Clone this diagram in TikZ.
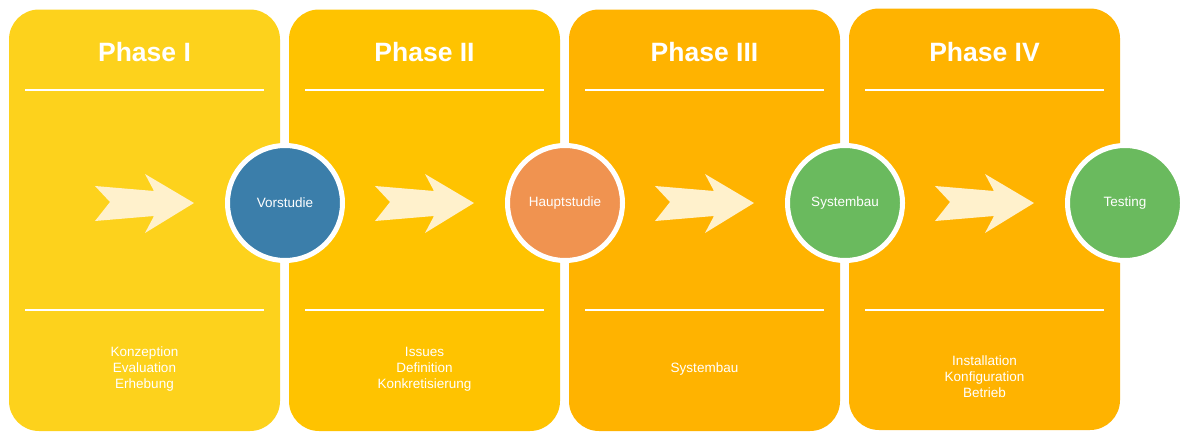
\documentclass[tikz,border=0pt]{standalone}
\usepackage{fontspec}
\setmainfont{Liberation Sans}
\definecolor{pA}{HTML}{FDD21C}
\definecolor{pB}{HTML}{FFC300}
\definecolor{pC}{HTML}{FFB300}
\definecolor{cBlue}{HTML}{3B7EAA}
\definecolor{cOrange}{HTML}{F09350}
\definecolor{cGreen}{HTML}{6ABA5E}
\definecolor{arrowc}{HTML}{FFF1CC}
\tikzset{
  panelbox/.style={rounded corners=30pt},
  sepline/.style={draw=white, line width=2pt},
  phasetitle/.style={font=\bfseries\fontsize{26.5}{30}\selectfont, text=white, inner sep=0pt},
  smalltext/.style={font=\fontsize{13.5}{16}\selectfont, text=white, align=center, inner sep=0pt},
  phasecircle/.style={circle, minimum size=115pt, draw=white, line width=5pt, inner sep=0pt,
     font=\fontsize{13.5}{16}\selectfont, text=white},
  chevron/.style={fill=arrowc}
}
\begin{document}
\begin{tikzpicture}[x=1pt,y=-1pt]
\useasboundingbox (0,0) rectangle (1185,439);
\foreach \i/\col/\dy in {0/pA/0,1/pB/0,2/pC/0,3/pC/-1}{
  \pgfmathsetmacro{\L}{9+280*\i}
  \fill[\col, panelbox] (\L,9.5+\dy) rectangle (\L+271,431+\dy);
  \draw[sepline] (\L+16,90) -- (\L+255,90);
  \draw[sepline] (\L+16,310) -- (\L+255,310);
  \fill[chevron] (\L+86,186) -- (\L+101,202) -- (\L+86,221) -- (\L+145,216) -- (\L+136,233)
     -- (\L+185,203) -- (\L+136,174) -- (\L+145,191) -- cycle;
}
\node[phasetitle] (t1) at (144.5,52) {Phase I};
\node[phasetitle] (t2) at (424.5,52) {Phase II};
\node[phasetitle] (t3) at (704.5,52) {Phase III};
\node[phasetitle] (t4) at (984.5,52) {Phase IV};
\node[phasecircle, fill=cBlue] (c1) at (285,203) {Vorstudie};
\node[phasecircle, fill=cOrange] (c2) at (565,203) {Hauptstudie};
\node[phasecircle, fill=cGreen] (c3) at (845,203) {Systembau};
\node[phasecircle, fill=cGreen] (c4) at (1125,203) {Testing};
\node[smalltext] (b1) at (144.5,369) {Konzeption\\Evaluation\\Erhebung};
\node[smalltext] (b2) at (424.5,369) {Issues\\Definition\\Konkretisierung};
\node[smalltext] (b3) at (704.5,369) {Systembau};
\node[smalltext] (b4) at (984.5,377) {Installation\\Konfiguration\\Betrieb};
\end{tikzpicture}
\end{document}
